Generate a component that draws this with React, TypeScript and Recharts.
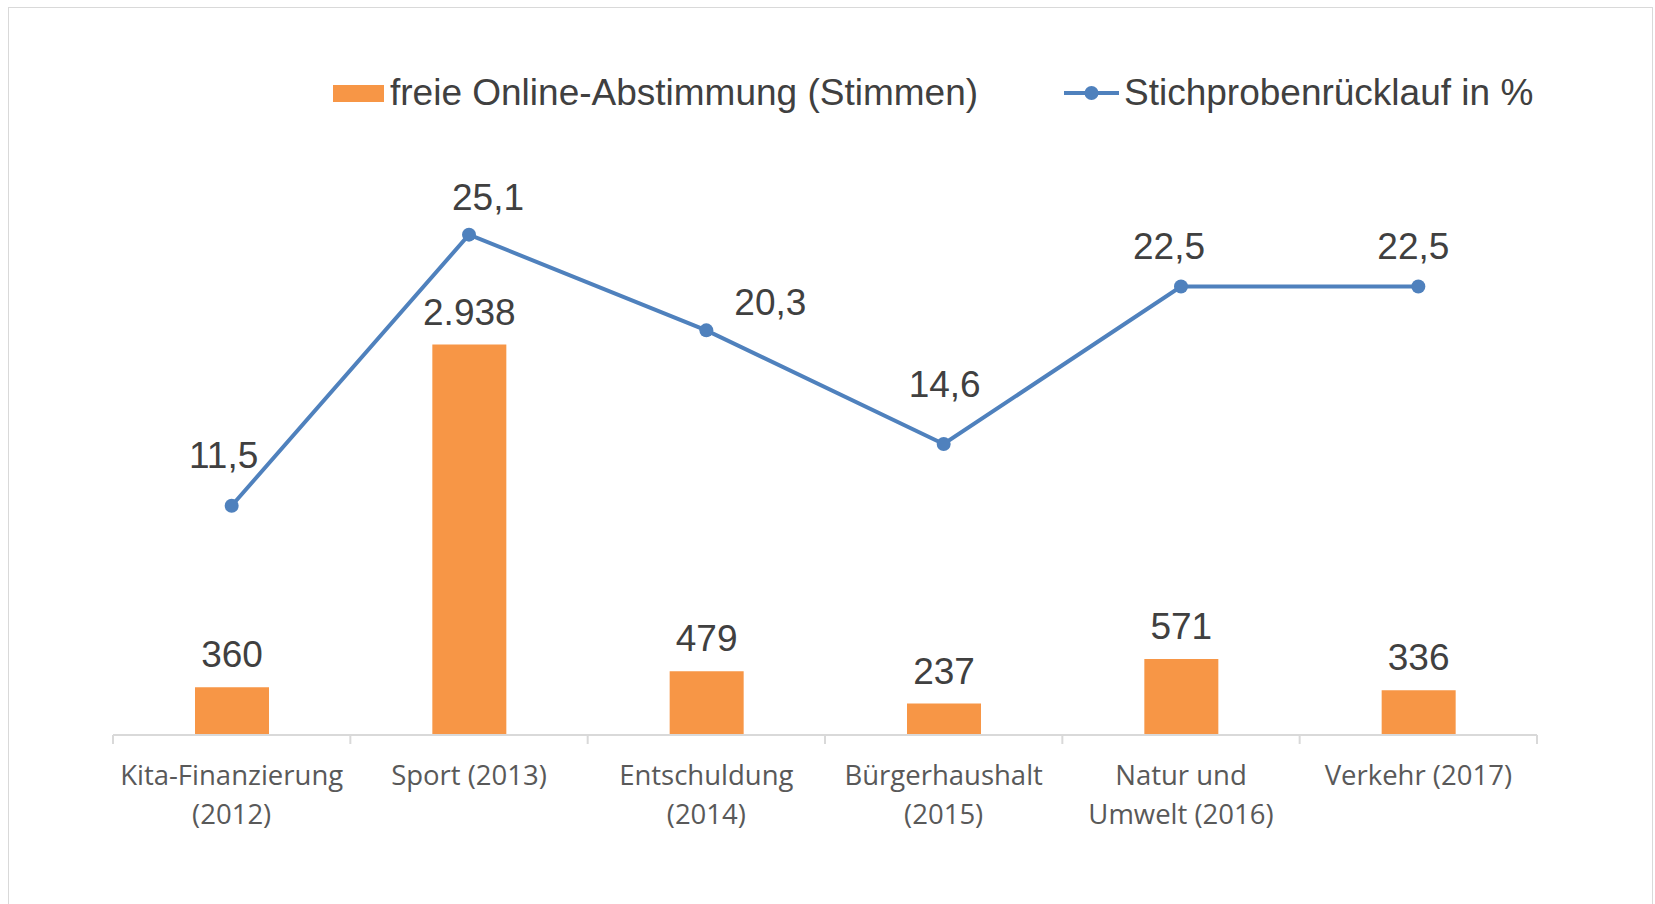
import React from "react";
import { Bar, ComposedChart, LabelList, Legend, Line, XAxis, YAxis } from "recharts";

const categories = [
  "Kita-Finanzierung\n(2012)",
  "Sport (2013)",
  "Entschuldung\n(2014)",
  "Bürgerhaushalt\n(2015)",
  "Natur und\nUmwelt (2016)",
  "Verkehr (2017)",
];
const onlineVotes = [360, 2938, 479, 237, 571, 336];
const sampleReturn = [11.5, 25.1, 20.3, 14.6, 22.5, 22.5];

const barName = "freie Online-Abstimmung (Stimmen)";
const lineName = "Stichprobenrücklauf in %";

const data = categories.map((name, i) => ({ name, votes: onlineVotes[i], rate: sampleReturn[i] }));

const orange = "#f79646";
const blue = "#4f81bd";
const textDark = "#404040";
const labelFont = "'Liberation Sans', Arial, sans-serif";
const tickFont = "'Open Sans', sans-serif";
const labelSize = 37;

// labels were dragged around by hand in the original: dx/dy from point to label centre
const rateLabelNudge = [
  [-8, -51],
  [19, -38],
  [64, -29],
  [1, -60],
  [-12, -41],
  [-5, -41],
];

const thousands = (v: number) => String(v).replace(/\B(?=(\d{3})+(?!\d))/g, ".");
const decimalComma = (v: number) => v.toFixed(1).replace(".", ",");

function RateLabel(props: any) {
  const x = props.x ?? props.viewBox?.x;
  const y = props.y ?? props.viewBox?.y;
  const [dx, dy] = rateLabelNudge[props.index] || [0, -40];
  return (
    <text
      x={x + dx}
      y={y + dy + labelSize * 0.358}
      textAnchor="middle"
      fontFamily={labelFont}
      fontSize={labelSize}
      fill={textDark}
    >
      {decimalComma(Number(props.value))}
    </text>
  );
}

function CategoryTick(props: any) {
  const { x, y, payload, index, visibleTicksCount } = props;
  const half = payload.offset || 118.7;
  const last = index === visibleTicksCount - 1;
  const lines = String(payload.value).split("\n");
  return (
    <g>
      <line x1={x - half} x2={x - half} y1={y} y2={y + 9} stroke="#d9d9d9" strokeWidth={2} />
      {last && <line x1={x + half} x2={x + half} y1={y} y2={y + 9} stroke="#d9d9d9" strokeWidth={2} />}
      <text x={x} y={y + 50} textAnchor="middle" fontFamily={tickFont} fontSize={27.5} fill="#595959">
        {lines.map((line, i) => (
          <tspan key={i} x={x} dy={i === 0 ? 0 : 39}>
            {line}
          </tspan>
        ))}
      </text>
    </g>
  );
}

function LegendContent() {
  return (
    <div style={{ position: "relative", height: 44, fontFamily: labelFont, fontSize: labelSize, color: textDark }}>
      <div style={{ position: "absolute", left: 0, top: 0, display: "flex", alignItems: "center", height: 44, whiteSpace: "nowrap" }}>
        <span style={{ display: "inline-block", width: 51, height: 17, background: orange, marginRight: 6 }} />
        <span>{barName}</span>
      </div>
      <div style={{ position: "absolute", left: 731, top: 0, display: "flex", alignItems: "center", height: 44, whiteSpace: "nowrap" }}>
        <svg width={55} height={18} style={{ marginRight: 5 }}>
          <line x1={0} y1={9} x2={55} y2={9} stroke={blue} strokeWidth={4} />
          <circle cx={27.5} cy={9} r={7} fill={blue} />
        </svg>
        <span>{lineName}</span>
      </div>
    </div>
  );
}

export default function App() {
  return (
    <div style={{ position: "absolute", left: 0, top: 0, width: 1655, height: 904, overflow: "hidden", background: "#fff" }}>
      <div
        style={{
          position: "absolute",
          left: 8,
          top: 7,
          width: 1643,
          height: 920,
          border: "1px solid #d9d9d9",
        }}
      />
      <div style={{ position: "absolute", left: 0, top: 0 }}>
        <ComposedChart width={1655} height={904} data={data} margin={{ top: 137, right: 118, bottom: 49, left: 113 }}>
          <XAxis
            dataKey="name"
            height={120}
            interval={0}
            tickSize={0}
            tickMargin={0}
            tickLine={false}
            axisLine={{ stroke: "#d9d9d9", strokeWidth: 2 }}
            tick={<CategoryTick />}
          />
          <YAxis yAxisId="votes" domain={[0, 4500]} hide />
          <YAxis yAxisId="rate" orientation="right" domain={[0, 30]} hide />
          <Legend
            verticalAlign="middle"
            align="center"
            layout="horizontal"
            content={<LegendContent />}
            wrapperStyle={{ left: 333, top: 71, width: 1250 }}
          />
          <Bar yAxisId="votes" dataKey="votes" name={barName} fill={orange} barSize={74} isAnimationActive={false}>
            <LabelList
              dataKey="votes"
              position="top"
              offset={20}
              formatter={(v: any) => thousands(Number(v))}
              fontFamily={labelFont}
              fontSize={labelSize}
              fill={textDark}
            />
          </Bar>
          <Line
            yAxisId="rate"
            dataKey="rate"
            name={lineName}
            stroke={blue}
            strokeWidth={4}
            dot={{ r: 7, fill: blue, stroke: blue, strokeWidth: 0 }}
            activeDot={false}
            isAnimationActive={false}
          >
            <LabelList dataKey="rate" content={<RateLabel />} />
          </Line>
        </ComposedChart>
      </div>
    </div>
  );
}
